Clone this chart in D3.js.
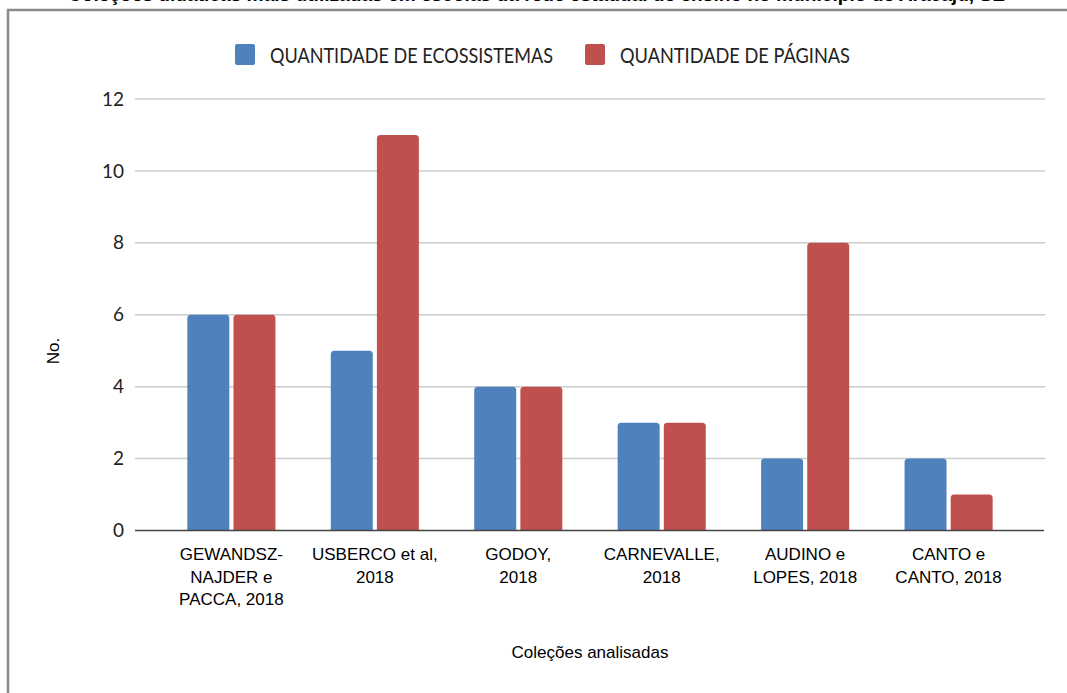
<!DOCTYPE html>
<html>
<head>
<meta charset="utf-8">
<script src="https://cdn.jsdelivr.net/npm/d3@7"></script>
<style>
  html, body { margin: 0; padding: 0; background: #fff; }
  svg { display: block; }
</style>
</head>
<body>
<div id="chart"></div>
<script>
// chart data
var categories = ["GEWANDSZ-NAJDER e PACCA, 2018", "USBERCO et al, 2018", "GODOY, 2018",
                  "CARNEVALLE, 2018", "AUDINO e LOPES, 2018", "CANTO e CANTO, 2018"];
var categoryLines = [["GEWANDSZ-", "NAJDER e", "PACCA, 2018"], ["USBERCO et al,", "2018"],
                     ["GODOY,", "2018"], ["CARNEVALLE,", "2018"], ["AUDINO e", "LOPES, 2018"],
                     ["CANTO e", "CANTO, 2018"]];
var seriesNames = ["QUANTIDADE DE ECOSSISTEMAS", "QUANTIDADE DE PÁGINAS"];
var ecossistemas = [6, 5, 4, 3, 2, 2];
var paginas = [6, 11, 4, 3, 8, 1];
var yTicks = [0, 2, 4, 6, 8, 10, 12];
var titleText = "Coleções didáticas mais utilizadas em escolas da rede estadual de ensino no município de Aracaju, SE";

var colors = ["#4f81bd", "#c0504d"];

var width = 1067, height = 693;
var svg = d3.select("#chart").append("svg")
    .attr("width", width)
    .attr("height", height);

// title, mostly cut off above the top edge
svg.append("text")
   .attr("x", 68)
   .attr("y", 0.5)
   .attr("font-family", "Liberation Sans, Arial, sans-serif")
   .attr("font-weight", "bold")
   .attr("font-size", 19)
   .attr("fill", "#000")
   .attr("textLength", 937)
   .attr("lengthAdjust", "spacingAndGlyphs")
   .text(titleText);

// frame
svg.append("rect")
   .attr("x", 8)
   .attr("y", 10)
   .attr("width", 1200)
   .attr("height", 1000)
   .attr("fill", "none")
   .attr("stroke", "#8a8a8a")
   .attr("stroke-width", 2.5);

var plotLeft = 135, plotRight = 1045;
var x0 = d3.scaleBand()
    .domain(categories)
    .range([plotLeft, plotRight])
    .paddingInner(0)
    .paddingOuter(0.172);

var x1 = d3.scaleBand()
    .domain([0, 1])
    .range([0, x0.bandwidth()])
    .paddingInner(0.09)
    .paddingOuter(0.6);

var y = d3.scaleLinear()
    .domain([0, 12])
    .range([530.5, 99]);

// gridlines
svg.append("g").selectAll("line")
   .data(yTicks.filter(function(d){ return d > 0; }))
   .enter().append("line")
   .attr("x1", plotLeft)
   .attr("x2", plotRight)
   .attr("y1", function(d){ return y(d); })
   .attr("y2", function(d){ return y(d); })
   .attr("stroke", "#cccccc")
   .attr("stroke-width", 1.5);

// y tick labels
svg.append("g").selectAll("text")
   .data(yTicks)
   .enter().append("text")
   .attr("x", 124)
   .attr("y", function(d){ return y(d); })
   .attr("dy", "0.35em")
   .attr("text-anchor", "end")
   .attr("font-family", "Lato, sans-serif")
   .attr("font-size", 19)
   .attr("fill", "#222")
   .text(function(d){ return d; });

function topRounded(x, yTop, w, yBase, r) {
  r = Math.min(r, (yBase - yTop), w / 2);
  return "M" + x + "," + yBase +
         "V" + (yTop + r) +
         "Q" + x + "," + yTop + " " + (x + r) + "," + yTop +
         "H" + (x + w - r) +
         "Q" + (x + w) + "," + yTop + " " + (x + w) + "," + (yTop + r) +
         "V" + yBase + "Z";
}

var allSeries = [ecossistemas, paginas];
allSeries.forEach(function(values, si) {
  svg.append("g").selectAll("path")
     .data(values)
     .enter().append("path")
     .attr("d", function(d, i) {
        var bx = x0(categories[i]) + x1(si);
        return topRounded(bx, y(d), x1.bandwidth(), y(0), 3.5);
     })
     .attr("fill", colors[si]);
});

// baseline
svg.append("line")
   .attr("x1", plotLeft)
   .attr("x2", plotRight - 1)
   .attr("y1", y(0))
   .attr("y2", y(0))
   .attr("stroke", "#444")
   .attr("stroke-width", 1.5);

// category labels
var catG = svg.append("g").selectAll("text")
   .data(categories)
   .enter().append("text")
   .attr("x", function(d){ return x0(d) + x0.bandwidth() / 2; })
   .attr("y", 560)
   .attr("text-anchor", "middle")
   .attr("font-family", "Liberation Sans, Arial, sans-serif")
   .attr("font-size", 17)
   .attr("fill", "#000");
catG.each(function(d, i) {
  var t = d3.select(this);
  categoryLines[i].forEach(function(line, li) {
    t.append("tspan")
     .attr("x", x0(d) + x0.bandwidth() / 2)
     .attr("y", 560 + li * 22.7)
     .text(line);
  });
});

// axis titles
svg.append("text")
   .attr("x", (plotLeft + plotRight) / 2)
   .attr("y", 658)
   .attr("text-anchor", "middle")
   .attr("font-family", "Liberation Sans, Arial, sans-serif")
   .attr("font-size", 17)
   .attr("fill", "#000")
   .text("Coleções analisadas");

svg.append("text")
   .attr("transform", "translate(59,351) rotate(-90)")
   .attr("text-anchor", "middle")
   .attr("font-family", "Liberation Sans, Arial, sans-serif")
   .attr("font-size", 17)
   .attr("fill", "#000")
   .text("No.");

// legend
var legendX = [235, 585];
var legendW = [283, 230];
var legend = svg.append("g").selectAll("g")
   .data(seriesNames)
   .enter().append("g")
   .attr("transform", function(d, i){ return "translate(" + legendX[i] + ",0)"; });
legend.append("rect")
   .attr("x", 0)
   .attr("y", 44)
   .attr("width", 20)
   .attr("height", 21)
   .attr("rx", 2)
   .attr("fill", function(d, i){ return colors[i]; });
legend.append("text")
   .attr("x", 35)
   .attr("y", 62.5)
   .attr("font-family", "Lato, sans-serif")
   .attr("font-size", 21)
   .attr("fill", "#222")
   .attr("textLength", function(d, i){ return legendW[i]; })
   .attr("lengthAdjust", "spacingAndGlyphs")
   .text(function(d){ return d; });
</script>
</body>
</html>
